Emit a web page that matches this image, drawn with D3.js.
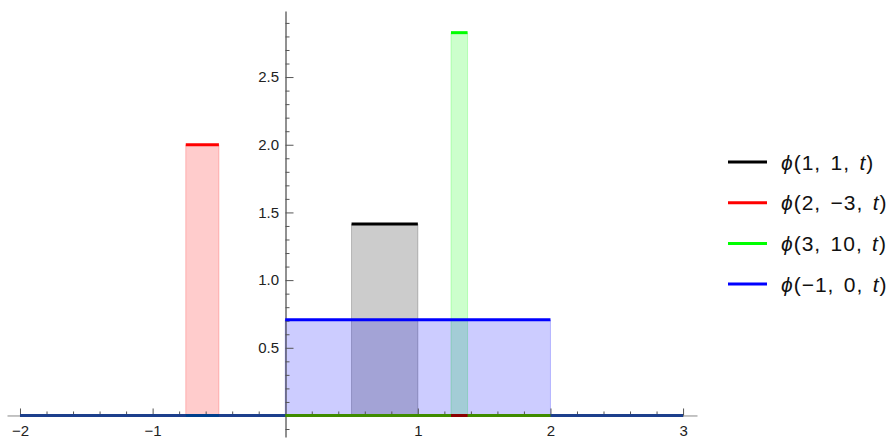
<!DOCTYPE html>
<html>
<head>
<meta charset="utf-8">
<script src="https://cdn.jsdelivr.net/npm/d3@7"></script>
<style>
  html, body { margin: 0; padding: 0; background: #fff; }
  svg { display: block; font-family: "Liberation Sans", Arial, sans-serif; }
</style>
</head>
<body>
<svg id="chart" width="896" height="438"></svg>
<script>
// Scaled box functions phi(j, k, t): non-zero height on [start, end], zero elsewhere
const seriesJ = [1, 2, 3, -1];
const seriesK = [1, -3, 10, 0];
const seriesStart = [0.5, -0.75, 1.25, 0];
const seriesEnd = [1, -0.5, 1.375, 2];
const seriesHeight = [1.414, 2.0, 2.828, 0.707];
const seriesColors = ["#000000", "#ff0000", "#00ff00", "#0000ff"];

const tRange = [-2, 3];
const xMajorTicks = [-2, -1, 0, 1, 2, 3];
const xMajorLabels = ["\u22122", "\u22121", "", "1", "2", "3"];
const yMajorTicks = [0.5, 1.0, 1.5, 2.0, 2.5];
const yMajorLabels = ["0.5", "1.0", "1.5", "2.0", "2.5"];

const svg = d3.select("#chart");

const x = d3.scaleLinear().domain([-2.098, 3.105]).range([7, 697]);
const y = d3.scaleLinear().domain([-0.159, 2.988]).range([437, 11]);

const xMinor = d3.range(-19, 30).map(i => i / 10).filter(v => Math.abs(v * 5 - Math.round(v * 5)) < 1e-9 && Math.abs(v - Math.round(v)) > 1e-9);
const yMinor = d3.range(-1, 30).map(i => i / 10).filter(v => Math.abs(v * 2 - Math.round(v * 2)) > 1e-9);

// --- filled areas under each function ---
const fills = svg.append("g");
seriesJ.forEach((j, i) => {
  const x0 = x(seriesStart[i]), x1 = x(seriesEnd[i]);
  const yb = y(0), yt = y(seriesHeight[i]);
  fills.append("rect")
    .attr("x", x0).attr("y", yt)
    .attr("width", x1 - x0).attr("height", yb - yt)
    .attr("fill", seriesColors[i]).attr("fill-opacity", 0.2);
  fills.append("path")
    .attr("d", `M${x0},${yb}V${yt}M${x1},${yt}V${yb}`)
    .attr("stroke", seriesColors[i]).attr("stroke-opacity", 0.22)
    .attr("stroke-width", 1).attr("fill", "none");
});

// --- axes ---
const axisColor = "#555";
const y0 = y(0);
const xAxisMajor = svg.append("g").attr("transform", `translate(0,${y0})`)
  .call(d3.axisBottom(x).tickValues(xMajorTicks).tickSize(-7).tickSizeOuter(0).tickPadding(9.5)
    .tickFormat((d, i) => xMajorLabels[i]));
const xAxisMinor = svg.append("g").attr("transform", `translate(0,${y0})`)
  .call(d3.axisBottom(x).tickValues(xMinor).tickSize(-4).tickSizeOuter(0).tickFormat(""));
xAxisMinor.select(".domain").remove();

const xZero = Math.round(x(0)) + 0.5;
const yAxisMajor = svg.append("g").attr("transform", `translate(${xZero},0)`)
  .call(d3.axisLeft(y).tickValues(yMajorTicks).tickSize(-8).tickSizeOuter(0).tickPadding(6.5)
    .tickFormat((d, i) => yMajorLabels[i]));
const yAxisMinor = svg.append("g").attr("transform", `translate(${xZero},0)`)
  .call(d3.axisLeft(y).tickValues(yMinor).tickSize(-4).tickSizeOuter(0).tickFormat(""));
yAxisMinor.select(".domain").remove();

xAxisMajor.select(".domain").attr("stroke", "#888");
yAxisMajor.select(".domain").attr("stroke", "#222");
svg.selectAll(".tick line").attr("stroke", axisColor);
// no tick mark drawn at the origin of the horizontal axis
xAxisMajor.selectAll(".tick").filter(d => d === 0).select("line").remove();
svg.selectAll(".tick text")
  .attr("font-size", 15).attr("fill", "#222")
  .attr("font-family", "'Liberation Sans', Arial, sans-serif");

// --- function curves ---
const curves = svg.append("g").attr("fill", "none").attr("stroke-width", 3);
// zero-level base under all curves
curves.append("line")
  .attr("x1", x(tRange[0])).attr("x2", x(tRange[1]))
  .attr("y1", y0).attr("y2", y0).attr("stroke", "#000");
seriesJ.forEach((j, i) => {
  const zeroParts = [[tRange[0], seriesStart[i]], [seriesEnd[i], tRange[1]]];
  zeroParts.forEach(([a, b]) => {
    if (b <= a) return;
    curves.append("line")
      .attr("x1", x(a)).attr("x2", x(b)).attr("y1", y0).attr("y2", y0)
      .attr("stroke", seriesColors[i]).attr("stroke-opacity", i === 0 ? 1 : 0.55);
  });
});
seriesJ.forEach((j, i) => {
  curves.append("line")
    .attr("x1", x(seriesStart[i])).attr("x2", x(seriesEnd[i]))
    .attr("y1", y(seriesHeight[i])).attr("y2", y(seriesHeight[i]))
    .attr("stroke", seriesColors[i]);
});

// --- legend ---
const fmt = v => (v < 0 ? "\u2212" + Math.abs(v) : String(v));
const legend = svg.append("g").attr("transform", "translate(728,162)");
seriesJ.forEach((j, i) => {
  const row = legend.append("g").attr("transform", `translate(0,${i * 40.7})`);
  row.append("line").attr("x1", 0).attr("x2", 39).attr("y1", 0).attr("y2", 0)
    .attr("stroke", seriesColors[i]).attr("stroke-width", 3);
  const t = row.append("text").attr("x", 53).attr("y", 7.5)
    .attr("font-size", 21).attr("fill", "#111")
    .attr("letter-spacing", 1).attr("word-spacing", 2.5);
  t.append("tspan").attr("font-style", "italic").text("\u03D5");
  t.append("tspan").text(`(${fmt(j)}, ${fmt(seriesK[i])}, `);
  t.append("tspan").attr("font-style", "italic").text("t");
  t.append("tspan").text(")");
});
</script>
</body>
</html>
